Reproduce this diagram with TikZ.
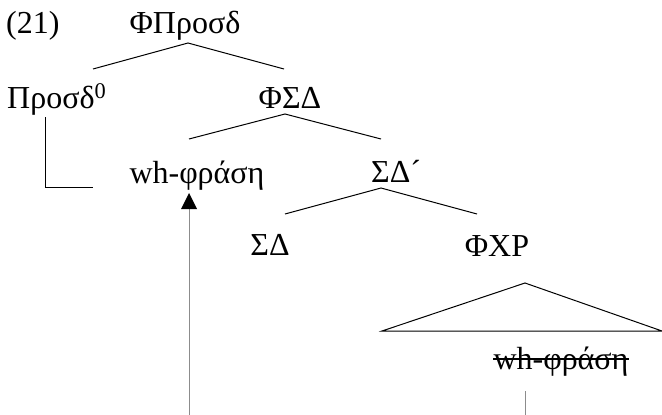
\documentclass[tikz,border=0pt]{standalone}
\usepackage{fontspec}
\setmainfont{Liberation Serif}
\begin{document}
\begin{tikzpicture}[x=1pt,y=-1pt,
  lbl/.style={font=\fontsize{32}{36}\selectfont, inner sep=0pt, anchor=base},
  edge/.style={line width=1pt},
  mv/.style={line width=1pt, draw=black!45}]
\useasboundingbox (0,0) rectangle (662,415);
% labels
\node[lbl, anchor=base west] (num) at (6,33) {(21)};
\node[lbl] (root) at (185,33) {ΦΠροσδ};
\node[lbl, anchor=base west] (pros) at (7,108) {Προσδ\textsuperscript{0}};
\node[lbl] (fsd) at (290,108) {ΦΣΔ};
\node[lbl] (wh) at (197,183) {wh-φράση};
\node[lbl, anchor=base west] (sdbar) at (371,182) {ΣΔ´};
\node[lbl] (sd) at (270,255) {ΣΔ};
\node[lbl] (fxp) at (497,256) {ΦΧΡ};
\node[lbl] (trace) at (561,369) {wh-φράση};
% branch points
\coordinate (a1) at (188,43);  \coordinate (l1) at (93,69);  \coordinate (r1) at (284,69);
\coordinate (a2) at (285,114); \coordinate (l2) at (189,139); \coordinate (r2) at (381,139);
\coordinate (a3) at (381,188); \coordinate (l3) at (285,214); \coordinate (r3) at (477,214);
\coordinate (ta) at (525,283); \coordinate (tl) at (382,331); \coordinate (tr) at (662,331);
\draw[edge] (l1) -- (a1) -- (r1);
\draw[edge] (l2) -- (a2) -- (r2);
\draw[edge] (l3) -- (a3) -- (r3);
\draw[edge] (tl) -- (ta) -- (tr) -- cycle;
% head line under Prosd0
\coordinate (h0) at (45,117); \coordinate (h1) at (45,187); \coordinate (h2) at (93,187);
\draw[edge] (h0) -- (h1) -- (h2);
% strike-through on the trace
\draw[line width=1.3pt] ([yshift=10pt]trace.base west) -- ([yshift=10pt]trace.base east);
% movement line
\coordinate (m0) at (189,415); \coordinate (mt) at (189,193);
\coordinate (n0) at (525,391); \coordinate (n1) at (525,415);
\draw[mv] (m0) -- (189,208);
\fill (mt) -- (181,209) -- (197,209) -- cycle;
\draw[mv] (n0) -- (n1);
\end{tikzpicture}
\end{document}
